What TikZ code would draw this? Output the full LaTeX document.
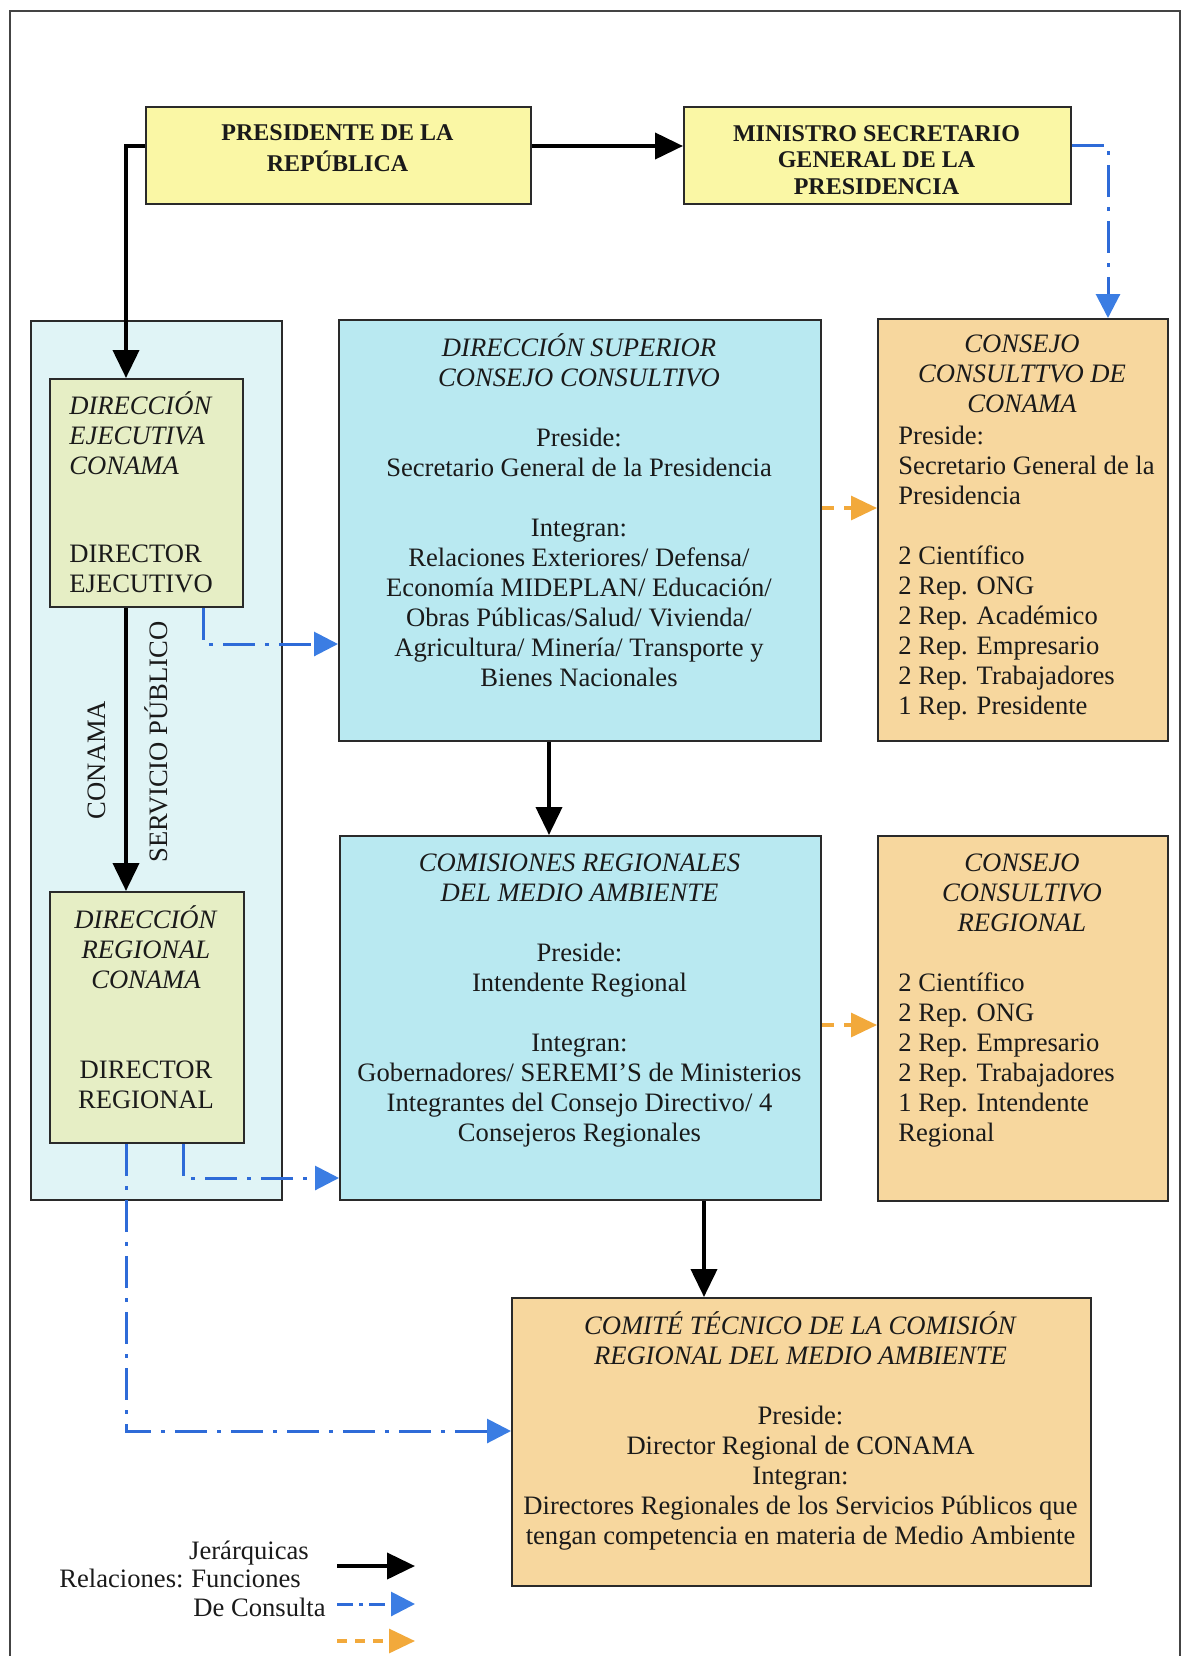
\documentclass[tikz,border=0pt]{standalone}
\usepackage{fontspec}
\setmainfont{Liberation Serif}
\usetikzlibrary{arrows.meta,calc}
\definecolor{ink}{HTML}{1A1A1A}
\definecolor{boxline}{HTML}{2A2A2A}
\definecolor{frameline}{HTML}{444444}
\definecolor{yel}{HTML}{FAF7A5}
\definecolor{cyanb}{HTML}{B9E9F1}
\definecolor{panelb}{HTML}{E0F4F6}
\definecolor{greenb}{HTML}{E6EEC5}
\definecolor{orab}{HTML}{F7D79E}
\definecolor{bluel}{HTML}{2E6BD8}
\definecolor{bluea}{HTML}{3B7DE3}
\definecolor{oral}{HTML}{F2A93B}
\begin{document}
\begin{tikzpicture}[x=0.5pt,y=-0.5pt,
  box/.style={draw=boxline,line width=1pt,inner sep=0pt,anchor=north west},
  txt/.style={inner sep=0pt,text=ink,font=\fontsize{13.3}{15}\selectfont},
  head/.style={inner sep=0pt,text=ink,font=\fontsize{12}{13.3}\selectfont\bfseries,align=center,anchor=north},
  blk/.style={line width=2pt,draw=black,-{Triangle[length=14pt,width=13pt]}},
  blu/.style={line width=1.5pt,draw=bluel,dash pattern=on 16pt off 5pt on 2pt off 5pt,
     -{Triangle[length=12pt,width=12pt,color=bluea]}},
  ora/.style={line width=1.6pt,draw=oral,dash pattern=on 6pt off 5pt,
     -{Triangle[length=13pt,width=12pt]}}]
\useasboundingbox (0,0) rectangle (1187,1656);
% frame
\draw[frameline,line width=1pt] (10,1656) -- (10,11) -- (1180,11) -- (1180,1656);
% boxes
\node[box,fill=yel,minimum width=192.5pt,minimum height=48.5pt] (pres) at (145,106) {};
\node[box,fill=yel,minimum width=193.5pt,minimum height=48.5pt] (mini) at (683,106) {};
\node[box,fill=panelb,minimum width=125.5pt,minimum height=439.5pt] (panel) at (30,320) {};
\node[box,fill=greenb,minimum width=96.5pt,minimum height=114pt] (dexe) at (49,378) {};
\node[box,fill=greenb,minimum width=97pt,minimum height=125.5pt] (dreg) at (49,891) {};
\node[box,fill=cyanb,minimum width=241pt,minimum height=210.5pt] (dsup) at (338,319) {};
\node[box,fill=orab,minimum width=145pt,minimum height=211pt] (ccon) at (877,318) {};
\node[box,fill=cyanb,minimum width=240.5pt,minimum height=182pt] (comi) at (339,835) {};
\node[box,fill=orab,minimum width=145pt,minimum height=182.5pt] (creg) at (877,835) {};
\node[box,fill=orab,minimum width=289.5pt,minimum height=144pt] (ctec) at (511,1297) {};
% texts
\node[head] (presT) at (337.5,121.5) {\strut PRESIDENTE DE LA\\ REPÚBLICA};
\node[head] (miniT) at (876.5,122) {\strut MINISTRO SECRETARIO\\ GENERAL DE LA\\ PRESIDENCIA};
\node[txt,align=left,anchor=north west] (dexeT) at (69,391)
  {\strut\textit{DIRECCIÓN}\\ \textit{EJECUTIVA}\\ \textit{CONAMA}\\[29pt] DIRECTOR\\ EJECUTIVO};
\node[txt,align=center,anchor=north] (dregT) at (146,905)
  {\strut\textit{DIRECCIÓN}\\ \textit{REGIONAL}\\ \textit{CONAMA}\\[30pt] DIRECTOR\\ REGIONAL};
\node[txt,rotate=90] (lblC) at (97,760) {CONAMA};
\node[txt,rotate=90] (lblS) at (156,742) {SERVICIO PÚBLICO};
\node[txt,align=center,anchor=north] (dsupT) at (579,333)
  {\strut\textit{DIRECCIÓN SUPERIOR}\\ \textit{CONSEJO CONSULTIVO}\\[15pt]
   Preside:\\ Secretario General de la Presidencia\\[15pt]
   Integran:\\ Relaciones Exteriores/ Defensa/\\ Economía MIDEPLAN/ Educación/\\
   Obras Públicas/Salud/ Vivienda/\\ Agricultura/ Minería/ Transporte y\\ Bienes Nacionales};
\node[txt,align=center,anchor=north] (cconT) at (1022,331)
  {\strut\textit{CONSEJO}\\ \textit{CONSULTTVO DE}\\ \textit{CONAMA}};
\node[txt,align=left,anchor=north west] (cconB) at (898,423)
  {\strut Preside:\\ Secretario General de la\\ Presidencia\\[15pt]
   2 Científico\\ 2 Rep. ONG\\ 2 Rep. Académico\\ 2 Rep. Empresario\\ 2 Rep. Trabajadores\\ 1 Rep. Presidente};
\node[txt,align=center,anchor=north] (comiT) at (579.5,850)
  {\strut\textit{COMISIONES REGIONALES}\\ \textit{DEL MEDIO AMBIENTE}\\[15pt]
   Preside:\\ Intendente Regional\\[15pt]
   Integran:\\ Gobernadores/ SEREMI’S de Ministerios\\ Integrantes del Consejo Directivo/ 4\\ Consejeros Regionales};
\node[txt,align=center,anchor=north] (cregT) at (1022,850)
  {\strut\textit{CONSEJO}\\ \textit{CONSULTIVO}\\ \textit{REGIONAL}};
\node[txt,align=left,anchor=north west] (cregB) at (898,970)
  {\strut 2 Científico\\ 2 Rep. ONG\\ 2 Rep. Empresario\\ 2 Rep. Trabajadores\\ 1 Rep. Intendente\\ Regional};
\node[txt,align=center,anchor=north] (ctecT) at (800.5,1311)
  {\strut\textit{COMITÉ TÉCNICO DE LA COMISIÓN}\\ \textit{REGIONAL DEL MEDIO AMBIENTE}\\[15pt]
   Preside:\\ Director Regional de CONAMA\\ Integran:\\
   Directores Regionales de los Servicios Públicos que\\ tengan competencia en materia de Medio Ambiente};
% connectors
\coordinate (yA) at (0,146);
\coordinate (cL) at (126,146);
\coordinate (cR) at (1108,145);
\coordinate (xA) at (126,0);
\coordinate (xB) at (549,0);
\coordinate (xC) at (704,0);
\coordinate (b1) at (203,644);
\coordinate (b2) at (183,1178);
\coordinate (b3) at (126,1431);
\coordinate (o1) at (0,508);
\coordinate (o2) at (0,1025);
\draw[blk] (pres.east |- yA) -- (mini.west |- yA);
\draw[blk] (pres.west |- yA) -- (cL) -- (cL |- dexe.north);
\draw[blu] (mini.east |- cR) -- (cR) -- (cR |- ccon.north);
\draw[blk] (dexe.south -| xA) -- (dreg.north -| xA);
\draw[blk] (dsup.south -| xB) -- (comi.north -| xB);
\draw[blk] (comi.south -| xC) -- (ctec.north -| xC);
\draw[blu] (dexe.south -| b1) -- (b1) -- (dsup.west |- b1);
\draw[blu] (dreg.south -| b2) -- (b2) -- (comi.west |- b2);
\draw[blu] (dreg.south -| b3) -- (b3) -- (ctec.west |- b3);
\draw[ora] (dsup.east |- o1) -- (ccon.west |- o1);
\draw[ora] (comi.east |- o2) -- (creg.west |- o2);
% legend
\node[txt,anchor=base] (lgJ) at (249,1559) {Jerárquicas};
\node[txt,anchor=base west] (lgR) at (59,1587) {Relaciones:};
\node[txt,anchor=base west] (lgF) at (191,1587) {Funciones};
\node[txt,anchor=base west] (lgD) at (193,1616) {De Consulta};
\coordinate (l1a) at (337,1566); \coordinate (l1b) at (415,1566);
\coordinate (l2a) at (337,1604); \coordinate (l2b) at (415,1604);
\coordinate (l3a) at (337,1641); \coordinate (l3b) at (415,1641);
\draw[blk] (l1a) -- (l1b);
\draw[blu,dash pattern=on 8pt off 3pt on 2pt off 3pt] (l2a) -- (l2b);
\draw[ora,dash pattern=on 5pt off 4pt] (l3a) -- (l3b);
\end{tikzpicture}
\end{document}
